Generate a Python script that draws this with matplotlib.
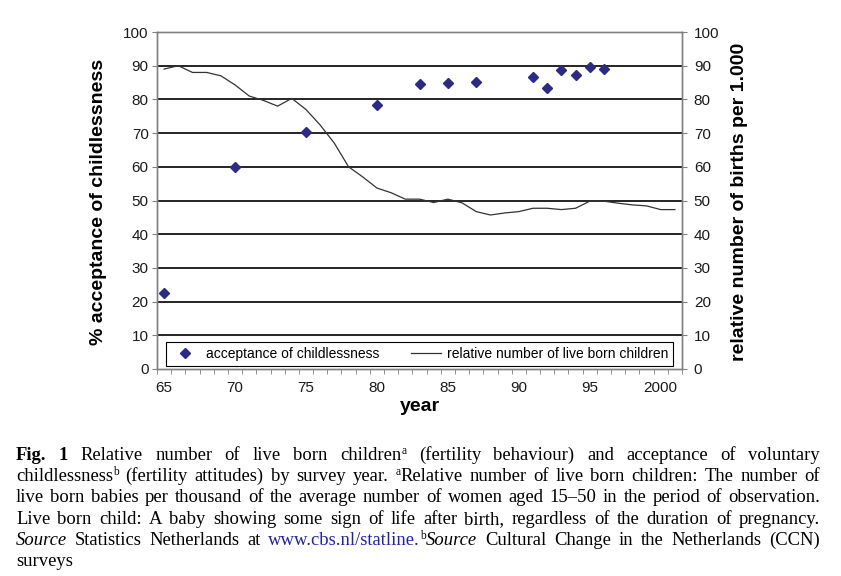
import matplotlib
matplotlib.use("Agg")
import matplotlib.pyplot as plt
from matplotlib.ticker import MultipleLocator

# data
years = list(range(1965, 2002))
births = [89, 90, 88, 88, 87, 84.3, 81, 79.7, 78, 80.3,
          77, 72.4, 67, 60, 57, 53.7, 52.3, 50.4, 50.4, 49.4,
          50.4, 49.3, 46.7, 45.7, 46.3, 46.7, 47.7, 47.7, 47.3, 47.7,
          49.8, 49.8, 49.2, 48.7, 48.4, 47.3, 47.3]

survey_years = [1965, 1970, 1975, 1980, 1983, 1985, 1987, 1991, 1992, 1993, 1994, 1995, 1996]
acceptance = [22.6, 60, 70.2, 78.4, 84.6, 84.9, 85.2, 86.6, 83.5, 88.6, 87.2, 89.6, 88.9]

tick_years = [1965, 1970, 1975, 1980, 1985, 1990, 1995, 2000]
tick_labels = ["65", "70", "75", "80", "85", "90", "95", "2000"]

W, H = 841, 576
sans = "Liberation Sans"
serif = "Liberation Serif"
grey = "#808080"
navy = "#2b2a85"

fig = plt.figure(figsize=(W / 100, H / 100), dpi=100)
ax = fig.add_axes([157 / W, 1 - 369 / H, 525 / W, 337 / H])
ax2 = ax.twinx()

x_line = [y - 1965 for y in years]
x_pts = [y - 1965 for y in survey_years]

# gridlines
for v in range(10, 100, 10):
    ax.axhline(v, color="black", lw=1.2, zorder=1)

ax.plot(x_pts, acceptance, linestyle="none", marker="D", ms=5, color=navy,
        label="acceptance of childlessness", zorder=3)
ax2.plot(x_line, births, color="#333333", lw=0.9, label="relative number of live born children", zorder=3)

for a in (ax, ax2):
    a.set_xlim(-0.5, 36.5)
    a.set_ylim(0, 100)
    a.yaxis.set_major_locator(MultipleLocator(10))
    for s in a.spines.values():
        s.set_color(grey)
        s.set_linewidth(1.0)

ax.set_xticks([y - 1965 for y in tick_years])
ax.set_xticklabels(tick_labels)
ax.set_xticks([i + 0.5 for i in range(-1, 37)], minor=True)
ax.tick_params(axis="x", which="major", length=0, pad=9, labelsize=11, labelcolor="#1a1a1a")
ax.tick_params(axis="x", which="minor", length=3.5, color=grey, direction="out")
ax.tick_params(axis="y", length=3.5, color=grey, pad=2.5, labelsize=11, labelcolor="#1a1a1a")
ax2.tick_params(axis="y", length=3.5, color=grey, pad=5, labelsize=11, labelcolor="#1a1a1a")
for lab in ax.get_xticklabels() + ax.get_yticklabels() + ax2.get_yticklabels():
    lab.set_fontfamily(sans)

ax.set_ylabel("% acceptance of childlessness", fontsize=14, fontweight="bold", family=sans)
ax.yaxis.set_label_coords(-0.112, 0.497)
ax.yaxis.label.set_va("center")
ax2.set_ylabel("relative number of births per 1.000", fontsize=14, fontweight="bold", family=sans)
ax2.yaxis.set_label_coords(1.109, 0.497)
ax2.yaxis.label.set_va("center")
ax.set_xlabel("year", fontsize=14, fontweight="bold", family=sans)
ax.xaxis.set_label_coords(0.501, -0.110)
ax.xaxis.label.set_va("center")

h1, l1 = ax.get_legend_handles_labels()
h2, l2 = ax2.get_legend_handles_labels()
leg = ax2.legend(h1 + h2, l1 + l2, ncol=2, loc="lower left", mode="expand",
                 bbox_to_anchor=(0.017, 0.009, 0.966, 0.08), borderaxespad=0,
                 fancybox=False, framealpha=1, edgecolor="black",
                 prop={"family": sans, "size": 10}, handlelength=2.1,
                 handletextpad=0.45, borderpad=0.35)
leg.get_frame().set_linewidth(0.8)


# caption, justified word by word
def words(s, st="n"):
    return [[(w, st)] for w in s.split()]


cap_lines = [
    [[("Fig.", "b")], [("1", "b")]] + words("Relative number of live born")
    + [[("children", "n"), ("a", "s")]] + words("(fertility behaviour) and acceptance of voluntary"),
    [[("childlessness", "n"), ("b", "s")]] + words("(fertility attitudes) by survey year.")
    + [[("a", "s"), ("Relative", "n")]] + words("number of live born children: The number of"),
    words("live born babies per thousand of the average number of women aged 15\u201350 in the period of observation."),
    words("Live born child: A baby showing some sign of life after birth, regardless of the duration of pregnancy."),
    [[("Source", "i")]] + words("Statistics Netherlands at")
    + [[("www.cbs.nl/statline.", "l"), ("b", "s"), ("Source", "i")]]
    + words("Cultural Change in the Netherlands (CCN)"),
    words("surveys"),
]

cap_left, cap_right = 16, 820
cap_top, cap_step = 460, 21.2
cap_size = 13.4

renderer = fig.canvas.get_renderer()
for n, line in enumerate(cap_lines):
    base = cap_top + n * cap_step
    made = []
    for word in line:
        runs = []
        for txt, st in word:
            kw = dict(family=serif, fontsize=cap_size, color="black", va="baseline", ha="left")
            dy = 0
            if st == "b":
                kw["fontweight"] = "bold"
            elif st == "i":
                kw["fontstyle"] = "italic"
            elif st == "l":
                kw["color"] = "#1f1fb4"
            elif st == "s":
                kw["fontsize"] = cap_size * 0.62
                dy = 6
            t = fig.text(0, 0, txt, **kw)
            w = t.get_window_extent(renderer).width
            runs.append((t, w, dy))
        made.append(runs)
    widths = [sum(r[1] for r in runs) for runs in made]
    if n < len(cap_lines) - 1 and len(made) > 1:
        gap = (cap_right - cap_left - sum(widths)) / (len(made) - 1)
    else:
        gap = 4
    x = cap_left
    for runs, wsum in zip(made, widths):
        xx = x
        for t, w, dy in runs:
            t.set_position((xx / W, 1 - (base - dy) / H))
            xx += w
        x += wsum + gap

fig.savefig("out.png", dpi=100, facecolor="white")
